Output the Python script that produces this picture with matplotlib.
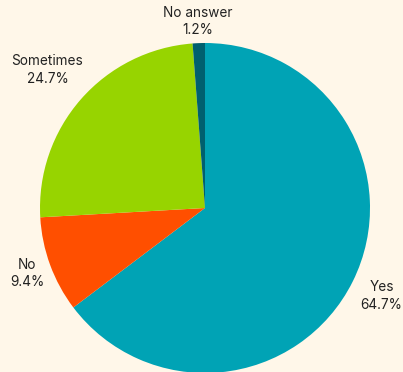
import matplotlib.pyplot as plt
import numpy as np

plt.rcParams['font.family'] = ['Inter', 'DejaVu Sans']

labels = ['Yes', 'No', 'Sometimes', 'No answer']
values = [64.7, 9.4, 24.7, 1.2]
colors = ['#00A3B5', '#FF4F00', '#97D400', '#00606E']
label_dist = [1.195, 1.15, 1.27, 1.13]

bg = '#FFF7E9'
fig = plt.figure(figsize=(4.03, 3.72), dpi=100, facecolor=bg)
ax = fig.add_axes([40/403, -1/372, 330/403, 330/372])
ax.set_facecolor(bg)

wedges, _ = ax.pie(values, colors=colors, startangle=90, counterclock=False,
                   radius=1, wedgeprops=dict(linewidth=0))

for w, lab, v, d in zip(wedges, labels, values, label_dist):
    ang = np.deg2rad((w.theta1 + w.theta2) / 2)
    ax.text(d*np.cos(ang), d*np.sin(ang), '{}\n{:.1f}%'.format(lab, v),
            ha='center', va='center', fontsize=9.8, color='#222222',
            linespacing=1.3, clip_on=False)

ax.set_xlim(-1, 1)
ax.set_ylim(-1, 1)
ax.set_aspect('auto')
ax.axis('off')

fig.savefig('out.png', dpi=100, facecolor=bg)
